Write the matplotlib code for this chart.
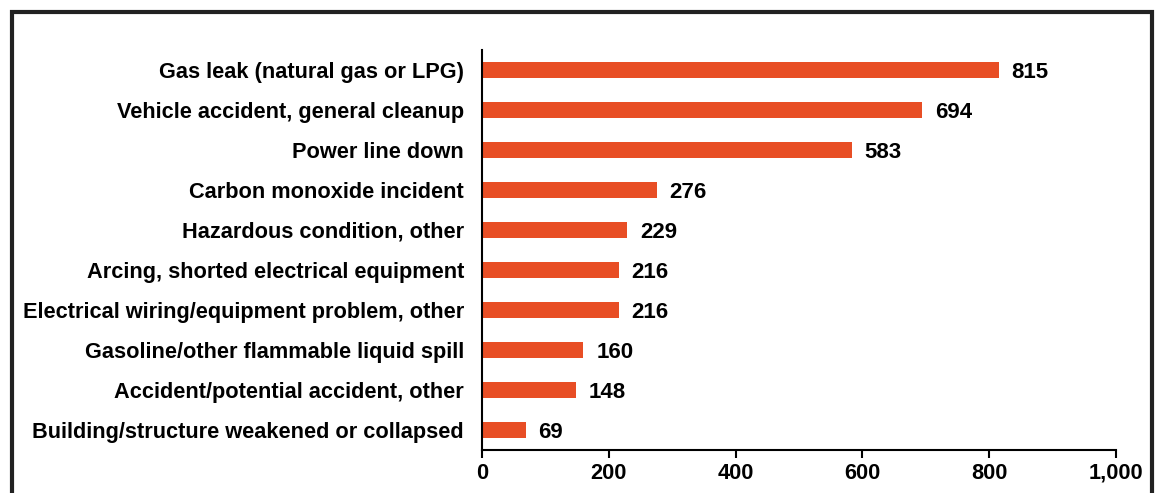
import matplotlib
matplotlib.use('Agg')
from matplotlib import pyplot as plt
from matplotlib.patches import Rectangle
from matplotlib.ticker import FuncFormatter

plt.rcParams['font.family'] = ['Liberation Sans', 'DejaVu Sans']
plt.rcParams['font.weight'] = 'bold'

categories = ['Gas leak (natural gas or LPG)',
              'Vehicle accident, general cleanup',
              'Power line down',
              'Carbon monoxide incident',
              'Hazardous condition, other',
              'Arcing, shorted electrical equipment',
              'Electrical wiring/equipment problem, other',
              'Gasoline/other flammable liquid spill',
              'Accident/potential accident, other',
              'Building/structure weakened or collapsed']
values = [815, 694, 583, 276, 229, 216, 216, 160, 148, 69]
x_ticks = [0, 200, 400, 600, 800, 1000]

fig = plt.figure(figsize=(11.59, 4.93), dpi=100)
ax = fig.add_axes([0.4159, 0.0872, 0.547, 0.8114])

y = list(range(len(categories)))
ax.barh(y, values, height=0.4, color='#E84E25')
for yi, v in zip(y, values):
    ax.text(v + 20, yi, str(v), va='center_baseline', ha='left', fontsize=16, fontweight='bold')

ax.set_ylim(len(categories) - 0.5, -0.5)
ax.set_xlim(0, 1000)
ax.set_yticks(y)
ax.set_yticklabels(categories, fontsize=15.7, fontweight='bold')
ax.set_xticks(x_ticks)
ax.xaxis.set_major_formatter(FuncFormatter(lambda v, p: '{:,.0f}'.format(v)))
ax.tick_params(axis='x', labelsize=15.7, length=6, width=1.5, pad=3)
ax.tick_params(axis='y', length=0, pad=13)
for s in ['top', 'right']:
    ax.spines[s].set_visible(False)
for s in ['left', 'bottom']:
    ax.spines[s].set_linewidth(1.5)

# frame around the whole chart (cut off at the bottom)
fig.patches.append(Rectangle((0.0104, -0.05), 0.9836, 1.0257,
                             transform=fig.transFigure, fill=False,
                             edgecolor='#222222', linewidth=3))

plt.savefig('out.png', dpi=100)
